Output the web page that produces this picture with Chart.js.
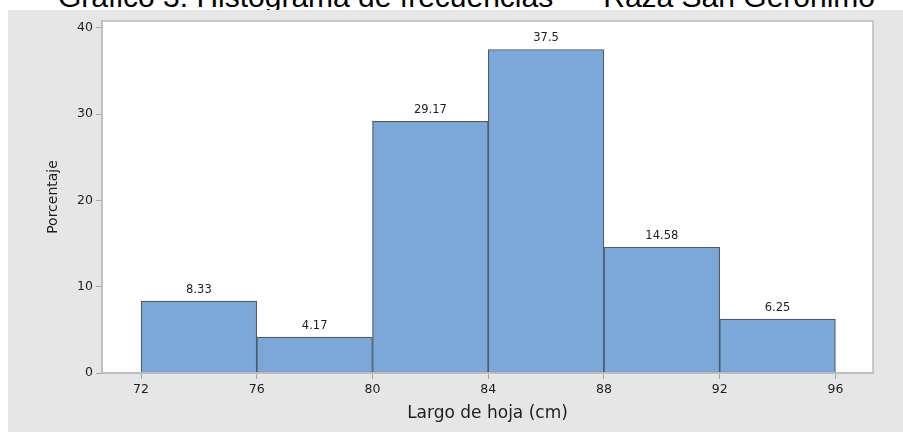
<!DOCTYPE html>
<html>
<head>
<meta charset="utf-8">
<script src="https://cdn.jsdelivr.net/npm/chart.js@4"></script>
<style>
  body { margin: 0; background: #fff; width: 903px; height: 432px; overflow: hidden; position: relative; }
  .title { position: absolute; left: 58px; top: -18px; font: 30px "Liberation Sans", Arial, sans-serif; line-height: 1; color: #000; white-space: pre; }
  .panel { position: absolute; left: 8px; top: 10px; width: 895px; height: 422px; background: #e6e6e6; }
</style>
</head>
<body>
<div class="title">Gráfico 3. Histograma de frecuencias  –  Raza San Geronimo</div>
<div class="panel"><canvas class="chart" width="895" height="422"></canvas></div>
<script>
// histogram bins (centres), percentages and tick labels
const binCenters = [74, 78, 82, 86, 90, 94]
const percent = [8.33, 4.17, 29.17, 37.5, 14.58, 6.25]
const xTicks = [72, 76, 80, 84, 88, 92, 96]
const yTicks = [0, 10, 20, 30, 40]

const canvas = document.querySelector('.chart')

const plotFrame = {
    id: 'plotFrame',
    beforeDraw(chart) {
        const {ctx, chartArea: a} = chart
        ctx.save()
        ctx.fillStyle = '#fff'
        ctx.fillRect(a.left, a.top, a.right - a.left, a.bottom - a.top)
        ctx.restore()
    },
    afterDatasetsDraw(chart) {
        const {ctx, chartArea: a} = chart
        ctx.save()
        ctx.strokeStyle = '#bcbcbc'
        ctx.lineWidth = 1.5
        ctx.strokeRect(a.left, a.top, a.right - a.left, a.bottom - a.top)
        // value labels on top of bars
        ctx.fillStyle = '#1e1e1e'
        ctx.font = '11.5px "DejaVu Sans", sans-serif'
        ctx.textAlign = 'center'
        ctx.textBaseline = 'middle'
        chart.getDatasetMeta(0).data.forEach((bar, i) => {
            ctx.fillText(String(percent[i]), bar.x, bar.y - 11)
        })
        ctx.restore()
    }
}

new Chart(canvas, {
    type: 'bar',
    data: {
        datasets: [{
            data: binCenters.map((c, i) => ({x: c, y: percent[i]})),
            backgroundColor: '#7ba7d9',
            borderColor: '#4f5a66',
            borderWidth: 1.2,
            barPercentage: 1,
            categoryPercentage: 1
        }]
    },
    options: {
        responsive: false,
        animation: false,
        layout: { padding: { left: 0, right: 30, top: 11, bottom: 0 } },
        plugins: { legend: { display: false }, tooltip: { enabled: false } },
        scales: {
            x: {
                type: 'linear',
                offset: false,
                min: 70.65,
                max: 97.3,
                afterBuildTicks: (s) => { s.ticks = xTicks.map(v => ({value: v})) },
                afterFit: (s) => { s.height = 59 },
                grid: { offset: false, drawOnChartArea: false, tickLength: 6, color: '#a8a8a8' },
                border: { color: '#bcbcbc', width: 1.5 },
                ticks: { color: '#1e1e1e', font: { family: 'DejaVu Sans', size: 12.5 }, padding: 3, maxRotation: 0 },
                title: { display: true, text: 'Largo de hoja (cm)', color: '#1e1e1e',
                    font: { family: 'DejaVu Sans', size: 17 }, padding: { top: 0, bottom: 8 } }
            },
            y: {
                min: 0,
                max: 40.8,
                afterBuildTicks: (s) => { s.ticks = yTicks.map(v => ({value: v})) },
                afterFit: (s) => { s.width = 94 },
                grid: { drawOnChartArea: false, tickLength: 6, color: '#a8a8a8' },
                border: { color: '#bcbcbc', width: 1.5 },
                ticks: { color: '#1e1e1e', font: { family: 'DejaVu Sans', size: 12.5 }, padding: 3 },
                title: { display: true, text: 'Porcentaje', color: '#1e1e1e',
                    font: { family: 'DejaVu Sans', size: 14 }, padding: { top: 37, bottom: 0 } }
            }
        }
    },
    plugins: [plotFrame]
})
</script>
</body>
</html>
